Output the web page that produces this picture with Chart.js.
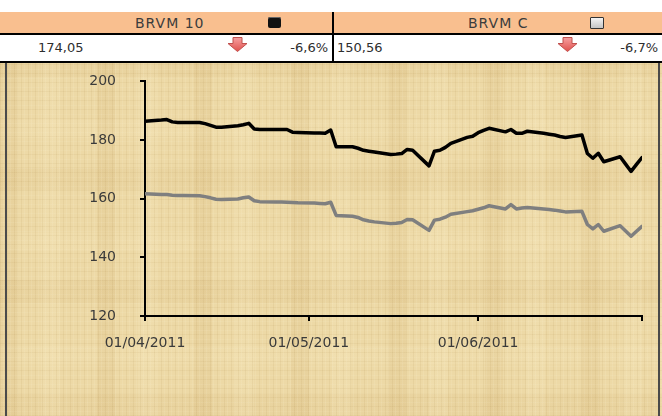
<!DOCTYPE html>
<html>
<head>
<meta charset="utf-8">
<script src="https://cdn.jsdelivr.net/npm/chart.js@4.4.1/dist/chart.umd.min.js"></script>
<style>
html,body{margin:0;padding:0;width:662px;height:416px;overflow:hidden;background:#fff;font-family:"DejaVu Sans",sans-serif;}
.abs{position:absolute;}
#band{left:0;top:12px;width:662px;height:21px;background:#F9BF8F;}
#line1{left:0;top:33px;width:662px;height:2px;background:#000;}
#row{left:0;top:35px;width:662px;height:26px;background:#fff;}
#line2{left:0;top:61px;width:662px;height:2px;background:#000;}
#divider{left:332px;top:12px;width:2px;height:51px;background:#000;}
#papyrus{left:0;top:63px;width:662px;height:353px;
 background:
  repeating-linear-gradient(90deg, rgba(140,100,30,0.07) 0 1px, transparent 1px 3px, rgba(255,250,225,0.10) 3px 4px, transparent 4px 7px),
  repeating-linear-gradient(0deg, rgba(140,100,30,0.06) 0 1px, transparent 1px 4px, rgba(255,250,225,0.08) 4px 5px, transparent 5px 9px),
  repeating-linear-gradient(90deg, rgba(190,150,80,0.10) 0 18px, transparent 18px 41px, rgba(255,245,210,0.12) 41px 60px, transparent 60px 97px),
  repeating-linear-gradient(0deg, rgba(190,150,80,0.08) 0 23px, transparent 23px 52px, rgba(255,245,210,0.10) 52px 70px, transparent 70px 113px),
  #EDD9A6;}
#edgeL{left:5px;top:63px;width:2px;height:353px;background:#4a4a4a;}
#edgeR{left:658px;top:63px;width:2px;height:353px;background:#4a4a4a;}
.hdr{font-size:14px;color:#3c3c3c;letter-spacing:1px;top:15px;white-space:nowrap;}
.val{font-size:13px;color:#2e2e2e;top:40px;white-space:nowrap;}
#c{left:0;top:49px;}
</style>
</head>
<body>
<div id="band" class="abs"></div>
<div id="line1" class="abs"></div>
<div id="row" class="abs"></div>
<div id="line2" class="abs"></div>
<div id="papyrus" class="abs"></div>
<div id="edgeL" class="abs"></div>
<div id="edgeR" class="abs"></div>
<div id="divider" class="abs"></div>

<div id="name0" class="abs hdr" style="left:135px;"></div>
<div id="name1" class="abs hdr" style="left:468px;"></div>
<div class="abs" style="left:268px;top:17px;width:13px;height:11px;background:#111;border-radius:2px;box-shadow:inset 0 1px 0 #666;"></div>
<div class="abs" style="left:590px;top:17px;width:12px;height:10px;background:linear-gradient(#f4f4f4,#c4c4c4);border:1px solid #333;border-radius:1px;"></div>

<div id="last0" class="abs val" style="left:38px;"></div>
<div id="chg0" class="abs val" style="right:334px;"></div>
<div id="last1" class="abs val" style="left:337px;"></div>
<div id="chg1" class="abs val" style="right:4px;"></div>

<svg class="abs" style="left:227px;top:37px" width="21" height="15" viewBox="0 0 21 15">
 <defs><linearGradient id="ag" x1="0" y1="0" x2="0" y2="1"><stop offset="0" stop-color="#F6A0A0"/><stop offset="1" stop-color="#E0504D"/></linearGradient></defs>
 <path d="M6 0.5 H15 V6.5 H20 L10.5 14.5 L1 6.5 H6 Z" fill="url(#ag)" stroke="#C0504D" stroke-width="1"/>
</svg>
<svg class="abs" style="left:557px;top:37px" width="21" height="15" viewBox="0 0 21 15">
 <path d="M6 0.5 H15 V6.5 H20 L10.5 14.5 L1 6.5 H6 Z" fill="url(#ag)" stroke="#C0504D" stroke-width="1"/>
</svg>

<canvas id="c" class="abs" width="662" height="367"></canvas>

<script>
// ---- data ----
const seriesNames = ['BRVM 10', 'BRVM C'];
const lastValues = ['174,05', '150,56'];
const changes = ['-6,6%', '-6,7%'];

const dates = [
 '01/04/2011','04/04/2011','05/04/2011','06/04/2011','07/04/2011','08/04/2011','11/04/2011','12/04/2011','13/04/2011','14/04/2011','15/04/2011','18/04/2011','19/04/2011','20/04/2011','21/04/2011','22/04/2011','25/04/2011','26/04/2011','27/04/2011','28/04/2011','29/04/2011',
 '02/05/2011','03/05/2011','04/05/2011','05/05/2011','06/05/2011','09/05/2011','10/05/2011','11/05/2011','12/05/2011','13/05/2011','16/05/2011','17/05/2011','18/05/2011','19/05/2011','20/05/2011','23/05/2011','24/05/2011','25/05/2011','26/05/2011','27/05/2011','30/05/2011','31/05/2011',
 '01/06/2011','02/06/2011','03/06/2011','06/06/2011','07/06/2011','08/06/2011','09/06/2011','10/06/2011','13/06/2011','14/06/2011','15/06/2011','16/06/2011','17/06/2011','20/06/2011','21/06/2011','22/06/2011','23/06/2011','24/06/2011','27/06/2011','28/06/2011','29/06/2011','30/06/2011','01/07/2011'
];

const brvm10 = [
 186.4,186.8,187.0,186.2,186.0,186.0,186.0,185.6,185.0,184.4,184.4,184.9,185.2,185.7,183.8,183.6,183.6,183.6,183.6,182.7,182.6,
 182.4,182.4,182.3,183.4,177.7,177.7,177.2,176.5,176.2,175.9,175.1,175.2,175.4,176.8,176.5,171.2,176.2,176.5,177.5,178.9,180.9,181.3,
 182.5,183.3,184.0,182.8,183.6,182.3,182.3,183.0,182.3,182.0,181.7,181.2,180.9,181.7,175.4,173.8,175.5,172.6,174.3,171.8,169.3,171.7,174.05
];

const brvmC = [
 161.7,161.4,161.4,161.2,161.1,161.1,161.0,160.7,160.3,159.8,159.7,159.9,160.3,160.6,159.3,159.0,158.9,158.9,158.8,158.7,158.6,
 158.5,158.4,158.3,158.8,154.3,154.0,153.6,152.8,152.4,152.1,151.5,151.6,151.9,152.9,152.8,149.2,152.7,153.0,153.7,154.7,155.6,155.9,
 156.4,156.9,157.6,156.5,158.0,156.5,156.8,157.0,156.5,156.3,156.1,155.8,155.5,155.7,151.2,149.7,151.2,148.9,150.8,149.0,147.2,148.9,150.56
];

const xTickDates = ['01/04/2011','01/05/2011','01/06/2011','01/07/2011'];
const xTickLabels = ['01/04/2011','01/05/2011','01/06/2011',''];
const yTicks = [120, 140, 160, 180, 200];

// ---- header text ----
document.getElementById('name0').textContent = seriesNames[0];
document.getElementById('name1').textContent = seriesNames[1];
document.getElementById('last0').textContent = lastValues[0];
document.getElementById('last1').textContent = lastValues[1];
document.getElementById('chg0').textContent = changes[0];
document.getElementById('chg1').textContent = changes[1];

// ---- chart ----
function toDay(s){ const p = s.split('/'); return Date.UTC(+p[2], +p[1]-1, +p[0]) / 86400000; }
const day0 = toDay(dates[0]);
const xs = dates.map(d => toDay(d) - day0);
const tickXs = xTickDates.map(d => toDay(d) - day0);

const font = {family: '"DejaVu Sans", sans-serif', size: 14};

new Chart(document.getElementById('c'), {
  type: 'line',
  data: {
    datasets: [
      {label: seriesNames[0], data: xs.map((x,i)=>({x, y: brvm10[i]})), borderColor: '#000', borderWidth: 3.5, pointRadius: 0, tension: 0, borderJoinStyle: 'round', borderCapStyle: 'round'},
      {label: seriesNames[1], data: xs.map((x,i)=>({x, y: brvmC[i]})), borderColor: '#7f7f7f', borderWidth: 3.5, pointRadius: 0, tension: 0, borderJoinStyle: 'round', borderCapStyle: 'round'}
    ]
  },
  options: {
    responsive: false,
    animation: false,
    devicePixelRatio: 1,
    layout: {padding: {left: 0, right: 20, top: 0, bottom: 0}},
    plugins: {legend: {display: false}, tooltip: {enabled: false}},
    scales: {
      x: {
        type: 'linear',
        min: tickXs[0], max: tickXs[tickXs.length-1],
        afterBuildTicks: s => { s.ticks = tickXs.map(v => ({value: v})); },
        afterFit: s => { s.height = 100; },
        grid: {display: true, drawOnChartArea: false, drawTicks: true, tickLength: 5, color: '#000', lineWidth: 2},
        border: {display: true, color: '#000', width: 2},
        ticks: {
          font, color: '#3a3a3a', padding: 14, maxRotation: 0, autoSkip: false,
          callback: (v) => { const i = tickXs.indexOf(v); return i >= 0 ? xTickLabels[i] : ''; }
        }
      },
      y: {
        min: yTicks[0], max: yTicks[yTicks.length-1],
        afterBuildTicks: s => { s.ticks = yTicks.map(v => ({value: v})); },
        afterFit: s => { s.width = 145; },
        grid: {display: true, drawOnChartArea: false, drawTicks: true, tickLength: 5, color: '#000', lineWidth: 2},
        border: {display: true, color: '#000', width: 2},
        ticks: {font, color: '#3a3a3a', padding: 24}
      }
    }
  }
});
</script>
</body>
</html>
